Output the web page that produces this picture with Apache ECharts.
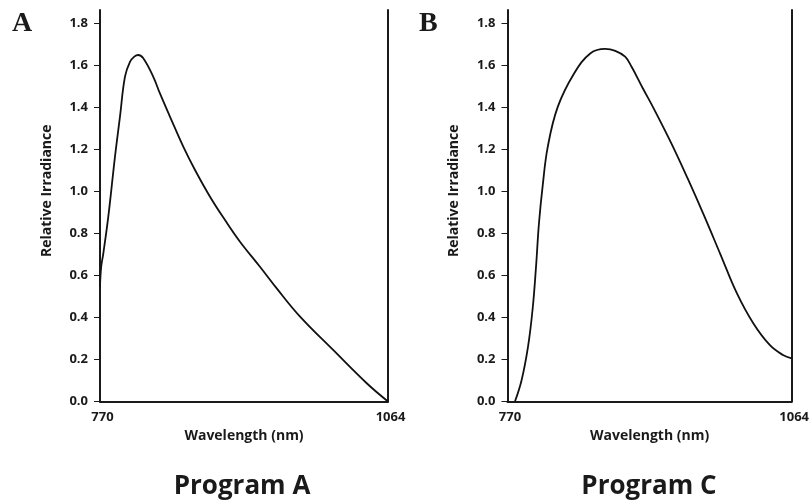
<!DOCTYPE html>
<html><head><meta charset="utf-8">
<script src="https://cdn.jsdelivr.net/npm/echarts@6/dist/echarts.min.js"></script>
<style>html,body{margin:0;padding:0;background:#fff}#c{width:812px;height:503px}</style>
</head><body><div id="c"></div>
<script>
// Program A curve (wavelength nm, relative irradiance)
const aWavelength = [770, 771.2, 773.4, 778.5, 785.3, 790.4, 795.5, 800.6, 805, 809.1, 814.2, 824.4, 831.2, 841.5, 855, 867, 882.3, 897.6, 912.9, 933.3, 950.4, 974, 1008, 1042, 1064];
const aIrradiance = [0.546, 0.64, 0.705, 0.88, 1.165, 1.355, 1.545, 1.615, 1.64, 1.648, 1.632, 1.544, 1.465, 1.354, 1.212, 1.101, 0.974, 0.863, 0.76, 0.641, 0.538, 0.405, 0.245, 0.088, 0.0];
// Program C curve
const cWavelength = [777.7, 784.5, 791.2, 796, 799.5, 802.6, 806.5, 811.6, 821.9, 838.9, 855.9, 871, 881.5, 891.7, 898.4, 910, 922.3, 939.3, 956.3, 973.3, 990.3, 1007.3, 1024.3, 1041.3, 1055, 1064];
const cIrradiance = [0, 0.10, 0.26, 0.44, 0.64, 0.85, 1.03, 1.21, 1.40, 1.56, 1.656, 1.677, 1.668, 1.64, 1.592, 1.49, 1.385, 1.23, 1.062, 0.885, 0.70, 0.515, 0.372, 0.269, 0.221, 0.205];
const yTicks = [0, 0.2, 0.4, 0.6, 0.8, 1.0, 1.2, 1.4, 1.6, 1.8];
const xTicks = [770, 1064];
const panelLetters = ['A', 'B'];
const panelTitles = ['Program A', 'Program C'];

const FONT = '"Open Sans", sans-serif';
const INK = '#1a1a1a';
const YMAX = 1.862;

function xAxisFor(i) {
  return {
    type: 'value', gridIndex: i, min: 770, max: 1064,
    axisLine: { show: true, onZero: false, lineStyle: { color: INK, width: 2 } },
    axisTick: { show: false },
    splitLine: { show: false },
    axisLabel: { customValues: xTicks, margin: 9, color: INK, fontFamily: FONT, fontWeight: 'bold', fontSize: 13,
      padding: [0, 0, 0, 5], formatter: v => String(v) },
    name: 'Wavelength (nm)', nameLocation: 'middle', nameGap: 28,
    nameTextStyle: { color: INK, fontFamily: FONT, fontWeight: 'bold', fontSize: 14 }
  };
}
function yAxisFor(i) {
  return {
    type: 'value', gridIndex: i, min: 0, max: YMAX,
    axisLine: { show: true, onZero: false, lineStyle: { color: INK, width: 2 } },
    axisTick: { show: true, customValues: yTicks, length: 6, lineStyle: { color: INK, width: 1 } },
    splitLine: { show: false },
    axisLabel: { customValues: yTicks, margin: 12, color: INK, fontFamily: FONT, fontWeight: 'bold', fontSize: 13,
      formatter: v => v.toFixed(1) },
    name: 'Relative Irradiance', nameLocation: 'middle', nameGap: 46,
    nameTextStyle: { color: INK, fontFamily: FONT, fontWeight: 'bold', fontSize: 14, padding: [0, 0, 0, 30] }
  };
}
function rightAxisFor(i) {
  return {
    type: 'value', gridIndex: i, min: 0, max: YMAX, position: 'right',
    axisLine: { show: true, onZero: false, lineStyle: { color: INK, width: 2 } },
    axisTick: { show: false }, axisLabel: { show: false }, splitLine: { show: false }
  };
}

const grids = [
  { left: 100, right: 424, top: 10, bottom: 101.5 },
  { left: 507.5, right: 16.7, top: 10, bottom: 101.5 }
];
const lineStyle = { color: '#111', width: 1.8 };

const option = {
  backgroundColor: '#fff',
  animation: false,
  grid: grids,
  xAxis: [xAxisFor(0), xAxisFor(1)],
  yAxis: [yAxisFor(0), rightAxisFor(0), yAxisFor(1), rightAxisFor(1)],
  series: [
    { type: 'line', xAxisIndex: 0, yAxisIndex: 0, showSymbol: false, smooth: 0.4,
      data: aWavelength.map((w, k) => [w, aIrradiance[k]]), lineStyle: lineStyle },
    { type: 'line', xAxisIndex: 1, yAxisIndex: 2, showSymbol: false, smooth: 0.4,
      data: cWavelength.map((w, k) => [w, cIrradiance[k]]), lineStyle: lineStyle }
  ],
  graphic: [
    { type: 'text', left: 12, top: 10, style: { text: panelLetters[0], font: 'bold 28px "Liberation Serif", serif', fill: INK } },
    { type: 'text', left: 419, top: 10, style: { text: panelLetters[1], font: 'bold 28px "Liberation Serif", serif', fill: INK } },
    { type: 'text', x: 242, y: 487, style: { text: panelTitles[0], font: 'bold 26px "Open Sans", sans-serif', fill: INK, align: 'center', verticalAlign: 'middle' } },
    { type: 'text', x: 649, y: 487, style: { text: panelTitles[1], font: 'bold 26px "Open Sans", sans-serif', fill: INK, align: 'center', verticalAlign: 'middle' } }
  ]
};
echarts.init(document.getElementById('c')).setOption(option);
</script></body></html>
